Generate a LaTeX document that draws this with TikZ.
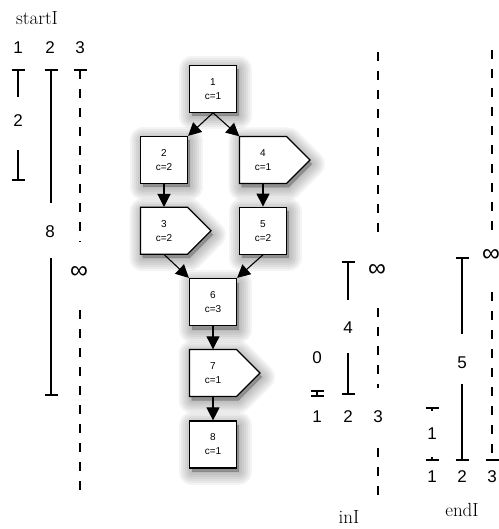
\documentclass[tikz,border=0pt]{standalone}
\usepackage{fontspec}
\newfontfamily\hv{Liberation Sans}
\usetikzlibrary{arrows.meta}
\newcommand{\tbar}[2]{\draw[lw] ({#1-6.5},#2) -- ({#1+6.5},#2);}
\newcommand{\shad}[1]{\foreach \w in {26,22,18,14,10,6,2}{\path[shd,line width=\w pt] #1;}}
\newcommand{\sqshad}[2]{\shad{({#1-23.5},{#2-23.5}) rectangle ({#1+23.5},{#2+23.5})}}
\begin{document}
\begin{tikzpicture}[x=1pt,y=-1pt,
  lw/.style={line width=1.2pt},
  dsh/.style={line width=1.2pt,dash pattern=on 9pt off 10pt},
  dig/.style={font=\hv\fontsize{17}{17}\selectfont, inner sep=0pt},
  inf/.style={font=\hv\fontsize{25}{25}\selectfont, inner sep=0pt},
  ttl/.style={font=\fontsize{19}{19}\selectfont, inner sep=0pt},
  shd/.style={fill=black, draw=black, fill opacity=0.045, draw opacity=0.045, line join=round, shift={(2,4)}},
  shp/.style={draw, line width=1.2pt, fill=white},
  box/.style={shp, minimum width=47pt, minimum height=47pt, inner sep=0pt, align=center, font=\hv\fontsize{10}{14}\selectfont},
  txt/.style={minimum width=47pt, minimum height=47pt, inner sep=0pt, align=center, font=\hv\fontsize{10}{14}\selectfont},
  arr/.style={line width=1.1pt, -{Triangle[length=13pt,width=13pt]}},
]
\useasboundingbox (0,0) rectangle (498,529);

% ---------------- startI
\node[ttl] (tS) at (37,18) {startI};
\node[dig] (s1) at (18,48) {1};
\node[dig] (s2) at (50,48) {2};
\node[dig] (s3) at (80,48) {3};
% col 1
\tbar{18}{70}
\draw[lw] (18,70) -- (18,97);
\node[dig] (sl1) at (18,121) {2};
\draw[lw] (18,150) -- (18,180);
\tbar{18}{180}
% col 2
\tbar{51}{70}
\draw[lw] (51,70) -- (51,203);
\node[dig] (sl2) at (50,232) {8};
\draw[lw] (51,258) -- (51,395);
\tbar{51}{395}
% col 3
\tbar{80}{70}
\draw[dsh] (80,70) -- (80,242);
\node[inf] (sl3) at (79,272) {∞};
\draw[dsh] (80,310) -- (80,498);

% ---------------- graph: shadows
\sqshad{213}{88.7}
\sqshad{164}{160}
\shad{(239.5,136.5) -- (286.5,136.5) -- (310,160) -- (286.5,183.5) -- (239.5,183.5) -- cycle}
\shad{(140.5,207.2) -- (187.5,207.2) -- (211,230.7) -- (187.5,254.2) -- (140.5,254.2) -- cycle}
\sqshad{263}{230.7}
\sqshad{213}{302}
\shad{(189.5,349.5) -- (236.5,349.5) -- (260,373) -- (236.5,396.5) -- (189.5,396.5) -- cycle}
\sqshad{213}{444.5}

% ---------------- graph: nodes
\node[box] (n1) at (213,88.7) {1\\c=1};
\node[box] (n2) at (164,160) {2\\c=2};
\path[shp] (239.5,136.5) -- (286.5,136.5) -- (310,160) -- (286.5,183.5) -- (239.5,183.5) -- cycle;
\node[txt] (n4) at (263,160) {4\\c=1};
\path[shp] (140.5,207.2) -- (187.5,207.2) -- (211,230.7) -- (187.5,254.2) -- (140.5,254.2) -- cycle;
\node[txt] (n3) at (164,230.7) {3\\c=2};
\node[box] (n5) at (263,230.7) {5\\c=2};
\node[box] (n6) at (213,302) {6\\c=3};
\path[shp] (189.5,349.5) -- (236.5,349.5) -- (260,373) -- (236.5,396.5) -- (189.5,396.5) -- cycle;
\node[txt] (n7) at (213,373) {7\\c=1};
\node[box] (n8) at (213,444.5) {8\\c=1};

\draw[arr] (n1.south) -- (n2.north east);
\draw[arr] (n1.south) -- (n4.north west);
\draw[arr] (n2.south) -- (n3.north);
\draw[arr] (n4.south) -- (n5.north);
\draw[arr] (n3.south) -- (n6.north west);
\draw[arr] (n5.south) -- (n6.north east);
\draw[arr] (n6.south) -- (n7.north);
\draw[arr] (n7.south) -- (n8.north);

% ---------------- inI
\node[dig] (il1) at (317,358) {0};
\tbar{317}{391}
\draw[lw] (317,391) -- (317,396);
\tbar{317}{396}
\tbar{348}{262}
\draw[lw] (348,262) -- (348,300);
\node[dig] (il2) at (348,328) {4};
\draw[lw] (348,353) -- (348,394);
\tbar{348}{394}
\draw[dsh] (378,52) -- (378,237);
\node[inf] (il3) at (377,270) {∞};
\draw[dsh] (378,308) -- (378,388);
\node[dig] (i1) at (317,417) {1};
\node[dig] (i2) at (348,417) {2};
\node[dig] (i3) at (378,417) {3};
\draw[dsh] (378,448) -- (378,497);
\node[ttl] (tI) at (349,517) {inI};

% ---------------- endI
\tbar{432}{408}
\draw[lw] (432,408) -- (432,411);
\node[dig] (el1) at (432,434) {1};
\draw[lw] (432,457) -- (432,460);
\tbar{432}{460}
\tbar{462}{258}
\draw[lw] (462,258) -- (462,334);
\node[dig] (el2) at (462,363) {5};
\draw[lw] (462,384) -- (462,460);
\tbar{462}{460}
\draw[dsh] (492,50) -- (492,237);
\node[inf] (el3) at (491,255) {∞};
\draw[dsh] (492,292) -- (492,460);
\tbar{492}{460}
\node[dig] (e1) at (432,477) {1};
\node[dig] (e2) at (462,477) {2};
\node[dig] (e3) at (492,477) {3};
\node[ttl] (tE) at (462,510) {endI};
\end{tikzpicture}
\end{document}
